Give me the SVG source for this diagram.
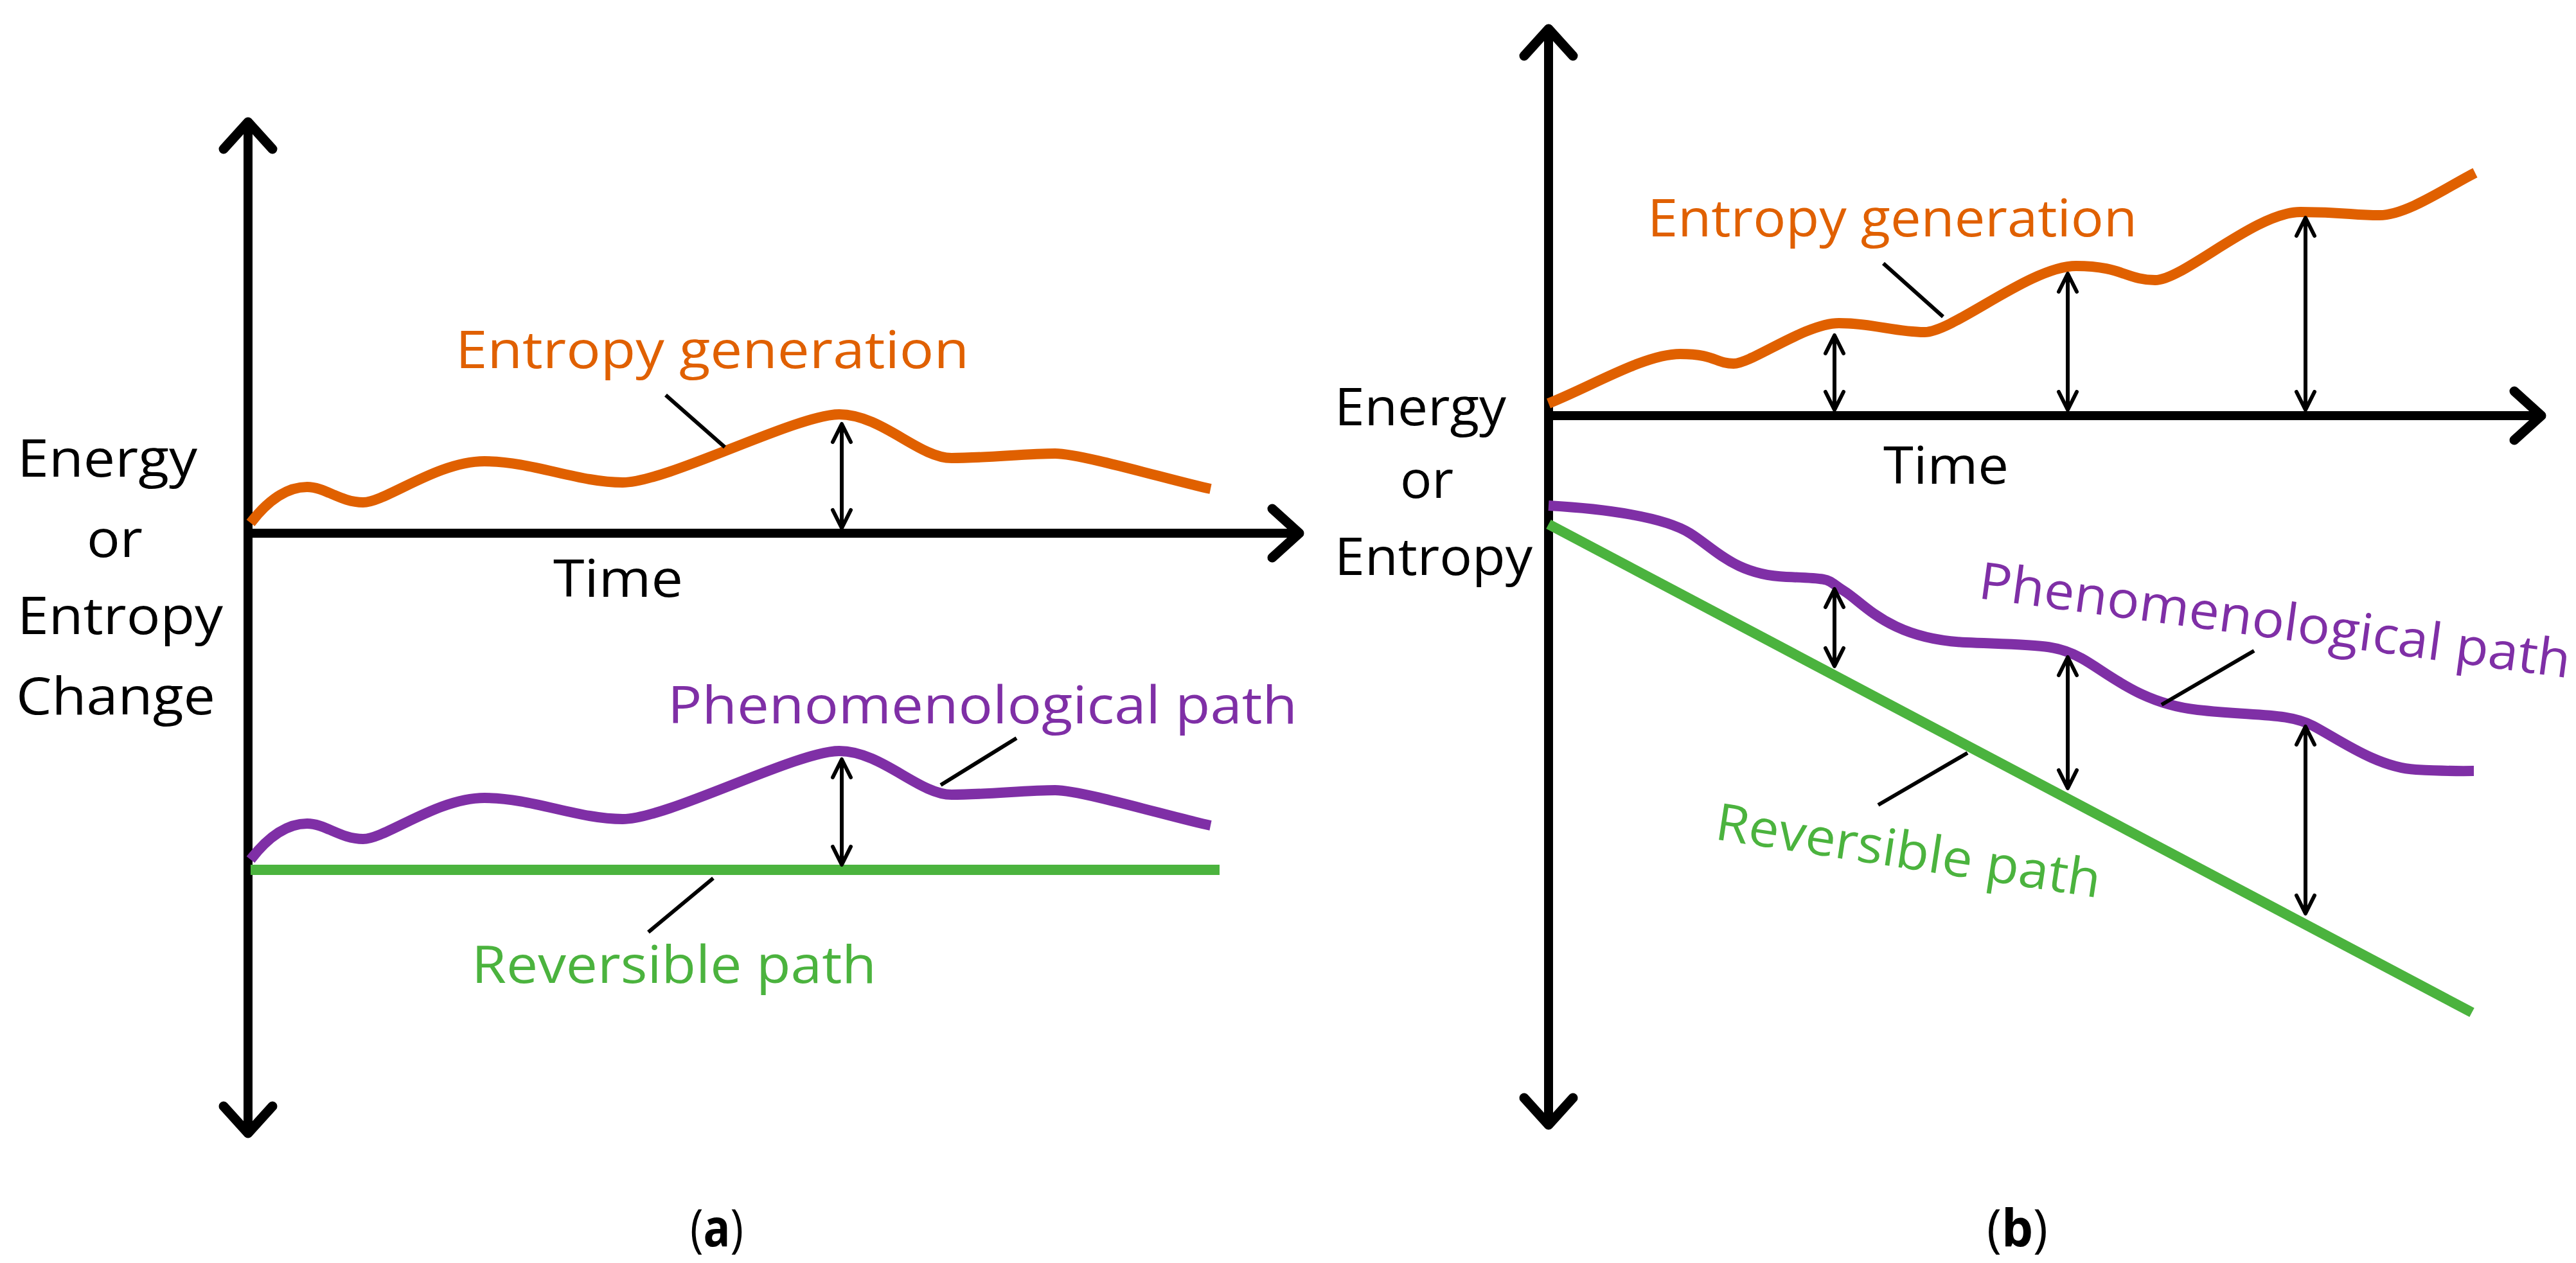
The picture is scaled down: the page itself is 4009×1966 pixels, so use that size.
<svg xmlns="http://www.w3.org/2000/svg" width="4009" height="1966" viewBox="0 0 4009 1966">
<style>
text{font-family:"Open Sans","Liberation Sans",sans-serif;font-size:80px}
.axis{stroke:#000;stroke-width:14;fill:none;stroke-linecap:round}
.dbl{stroke:#000;stroke-width:6;fill:none}
.lead{stroke:#000;stroke-width:6;fill:none}
.or{stroke:#E06000;stroke-width:16;fill:none}
.pu{stroke:#7F2FA6;stroke-width:16;fill:none}
.gr{stroke:#4BB33E;stroke-width:16;fill:none}
</style>
<defs>
<marker id="ax" markerUnits="userSpaceOnUse" viewBox="-60 -50 80 100" markerWidth="80" markerHeight="100" refX="0" refY="0" orient="auto-start-reverse" overflow="visible">
<path d="M-42,-38 L0,0 L-42,38" stroke="#000" stroke-width="15" fill="none" stroke-linecap="round" stroke-linejoin="round"/>
</marker>
<marker id="da" markerUnits="userSpaceOnUse" viewBox="-40 -25 50 50" markerWidth="50" markerHeight="50" refX="0" refY="0" orient="auto-start-reverse" overflow="visible">
<path d="M-28,-14 L0,0 L-28,14" stroke="#000" stroke-width="6" fill="none" stroke-linecap="round" stroke-linejoin="round"/>
</marker>
</defs>
<rect width="4009" height="1966" fill="#fff"/>
<g id="panel-a">
<g id="a-axes">
<line class="axis" x1="386" y1="1764" x2="386" y2="190" marker-start="url(#ax)" marker-end="url(#ax)"/>
<line class="axis" x1="386" y1="830" x2="2022" y2="830" marker-end="url(#ax)"/>
</g>
<g id="a-entropy"><path class="or" d="M390,814 C420,775 450,758 478,758 S530,782 565,782 S680,718 754,718 S900,751 969,751 S1240,645 1306,645 S1430,713 1481,713 S1600,706 1642,706 S1830,750 1884,761"/></g>
<g id="a-phen"><path class="pu" transform="translate(0,524)" d="M390,814 C420,775 450,758 478,758 S530,782 565,782 S680,718 754,718 S900,751 969,751 S1240,645 1306,645 S1430,713 1481,713 S1600,706 1642,706 S1830,750 1884,761"/></g>
<g id="a-rev"><line class="gr" x1="390" y1="1354" x2="1898" y2="1354"/></g>
<g id="a-connectors">
<line class="dbl" x1="1310" y1="660" x2="1310" y2="822" marker-start="url(#da)" marker-end="url(#da)"/>
<line class="dbl" x1="1310" y1="1182" x2="1310" y2="1346" marker-start="url(#da)" marker-end="url(#da)"/>
<line class="lead" x1="1036" y1="615" x2="1128" y2="696"/>
<line class="lead" x1="1582" y1="1149" x2="1464" y2="1222"/>
<line class="lead" x1="1110" y1="1367" x2="1009" y2="1451"/>
</g>
<g id="a-labels">
<text x="27" y="742" textLength="280" lengthAdjust="spacingAndGlyphs">Energy</text>
<text x="135" y="867" textLength="87" lengthAdjust="spacingAndGlyphs">or</text>
<text x="27" y="987" textLength="320" lengthAdjust="spacingAndGlyphs">Entropy</text>
<text x="25" y="1112" textLength="310" lengthAdjust="spacingAndGlyphs">Change</text>
<text x="861" y="929" textLength="202" lengthAdjust="spacingAndGlyphs">Time</text>
<text x="709" y="573" fill="#E06000" textLength="799" lengthAdjust="spacingAndGlyphs">Entropy generation</text>
<text x="1039" y="1126" fill="#7F2FA6" textLength="980" lengthAdjust="spacingAndGlyphs">Phenomenological path</text>
<text x="734" y="1530" fill="#4BB33E" textLength="630" lengthAdjust="spacingAndGlyphs">Reversible path</text>
<text x="1074" y="1940" textLength="83" lengthAdjust="spacingAndGlyphs">(<tspan font-weight="bold">a</tspan>)</text>
</g>
</g>
<g id="panel-b">
<g id="b-axes">
<line class="axis" x1="2410" y1="1751" x2="2410" y2="45" marker-start="url(#ax)" marker-end="url(#ax)"/>
<line class="axis" x1="2410" y1="647" x2="3955" y2="647" marker-end="url(#ax)"/>
</g>
<g id="b-entropy"><path class="or" d="M2410,628 C2480,600 2560,551 2615,551 S2670,566 2698,566 S2810,503 2862,503 S2950,517 2995,517 S3160,414 3231,414 S3310,436 3354,436 S3510,330 3580,330 S3660,335 3703,335 S3810,290 3852,269"/></g>
<g id="b-phen"><path class="pu" d="M2410,787 C2500,792 2590,805 2630,830 S2700,895 2780,898 S2840,902 2870,920 S2940,995 3060,1000 S3200,1003 3240,1025 S3330,1095 3420,1105 S3560,1109 3600,1130 S3700,1195 3760,1198 S3847,1200 3850,1200"/></g>
<g id="b-rev"><line class="gr" x1="2410" y1="816" x2="3847" y2="1576"/></g>
<g id="b-connectors">
<line class="dbl" x1="2855" y1="522" x2="2855" y2="638" marker-start="url(#da)" marker-end="url(#da)"/>
<line class="dbl" x1="3218" y1="426" x2="3218" y2="638" marker-start="url(#da)" marker-end="url(#da)"/>
<line class="dbl" x1="3588" y1="339" x2="3588" y2="638" marker-start="url(#da)" marker-end="url(#da)"/>
<line class="dbl" x1="2855" y1="917" x2="2855" y2="1037" marker-start="url(#da)" marker-end="url(#da)"/>
<line class="dbl" x1="3218" y1="1023" x2="3218" y2="1227" marker-start="url(#da)" marker-end="url(#da)"/>
<line class="dbl" x1="3588" y1="1131" x2="3588" y2="1422" marker-start="url(#da)" marker-end="url(#da)"/>
<line class="lead" x1="2931" y1="410" x2="3024" y2="493"/>
<line class="lead" x1="3508" y1="1013" x2="3364" y2="1097"/>
<line class="lead" x1="3062" y1="1172" x2="2923" y2="1253"/>
</g>
<g id="b-labels">
<text x="2077" y="662" textLength="267" lengthAdjust="spacingAndGlyphs">Energy</text>
<text x="2179" y="775" textLength="83" lengthAdjust="spacingAndGlyphs">or</text>
<text x="2077" y="895" textLength="308" lengthAdjust="spacingAndGlyphs">Entropy</text>
<text x="2931" y="753" textLength="195" lengthAdjust="spacingAndGlyphs">Time</text>
<text x="2564" y="368" fill="#E06000" textLength="762" lengthAdjust="spacingAndGlyphs">Entropy generation</text>
<text x="3077" y="931" fill="#7F2FA6" transform="rotate(7.7 3077 931)" textLength="928" lengthAdjust="spacingAndGlyphs">Phenomenological path</text>
<text x="2667" y="1306" fill="#4BB33E" transform="rotate(8.7 2667 1306)" textLength="605" lengthAdjust="spacingAndGlyphs">Reversible path</text>
<text x="3092" y="1940" textLength="95" lengthAdjust="spacingAndGlyphs">(<tspan font-weight="bold">b</tspan>)</text>
</g>
</g>
</svg>
